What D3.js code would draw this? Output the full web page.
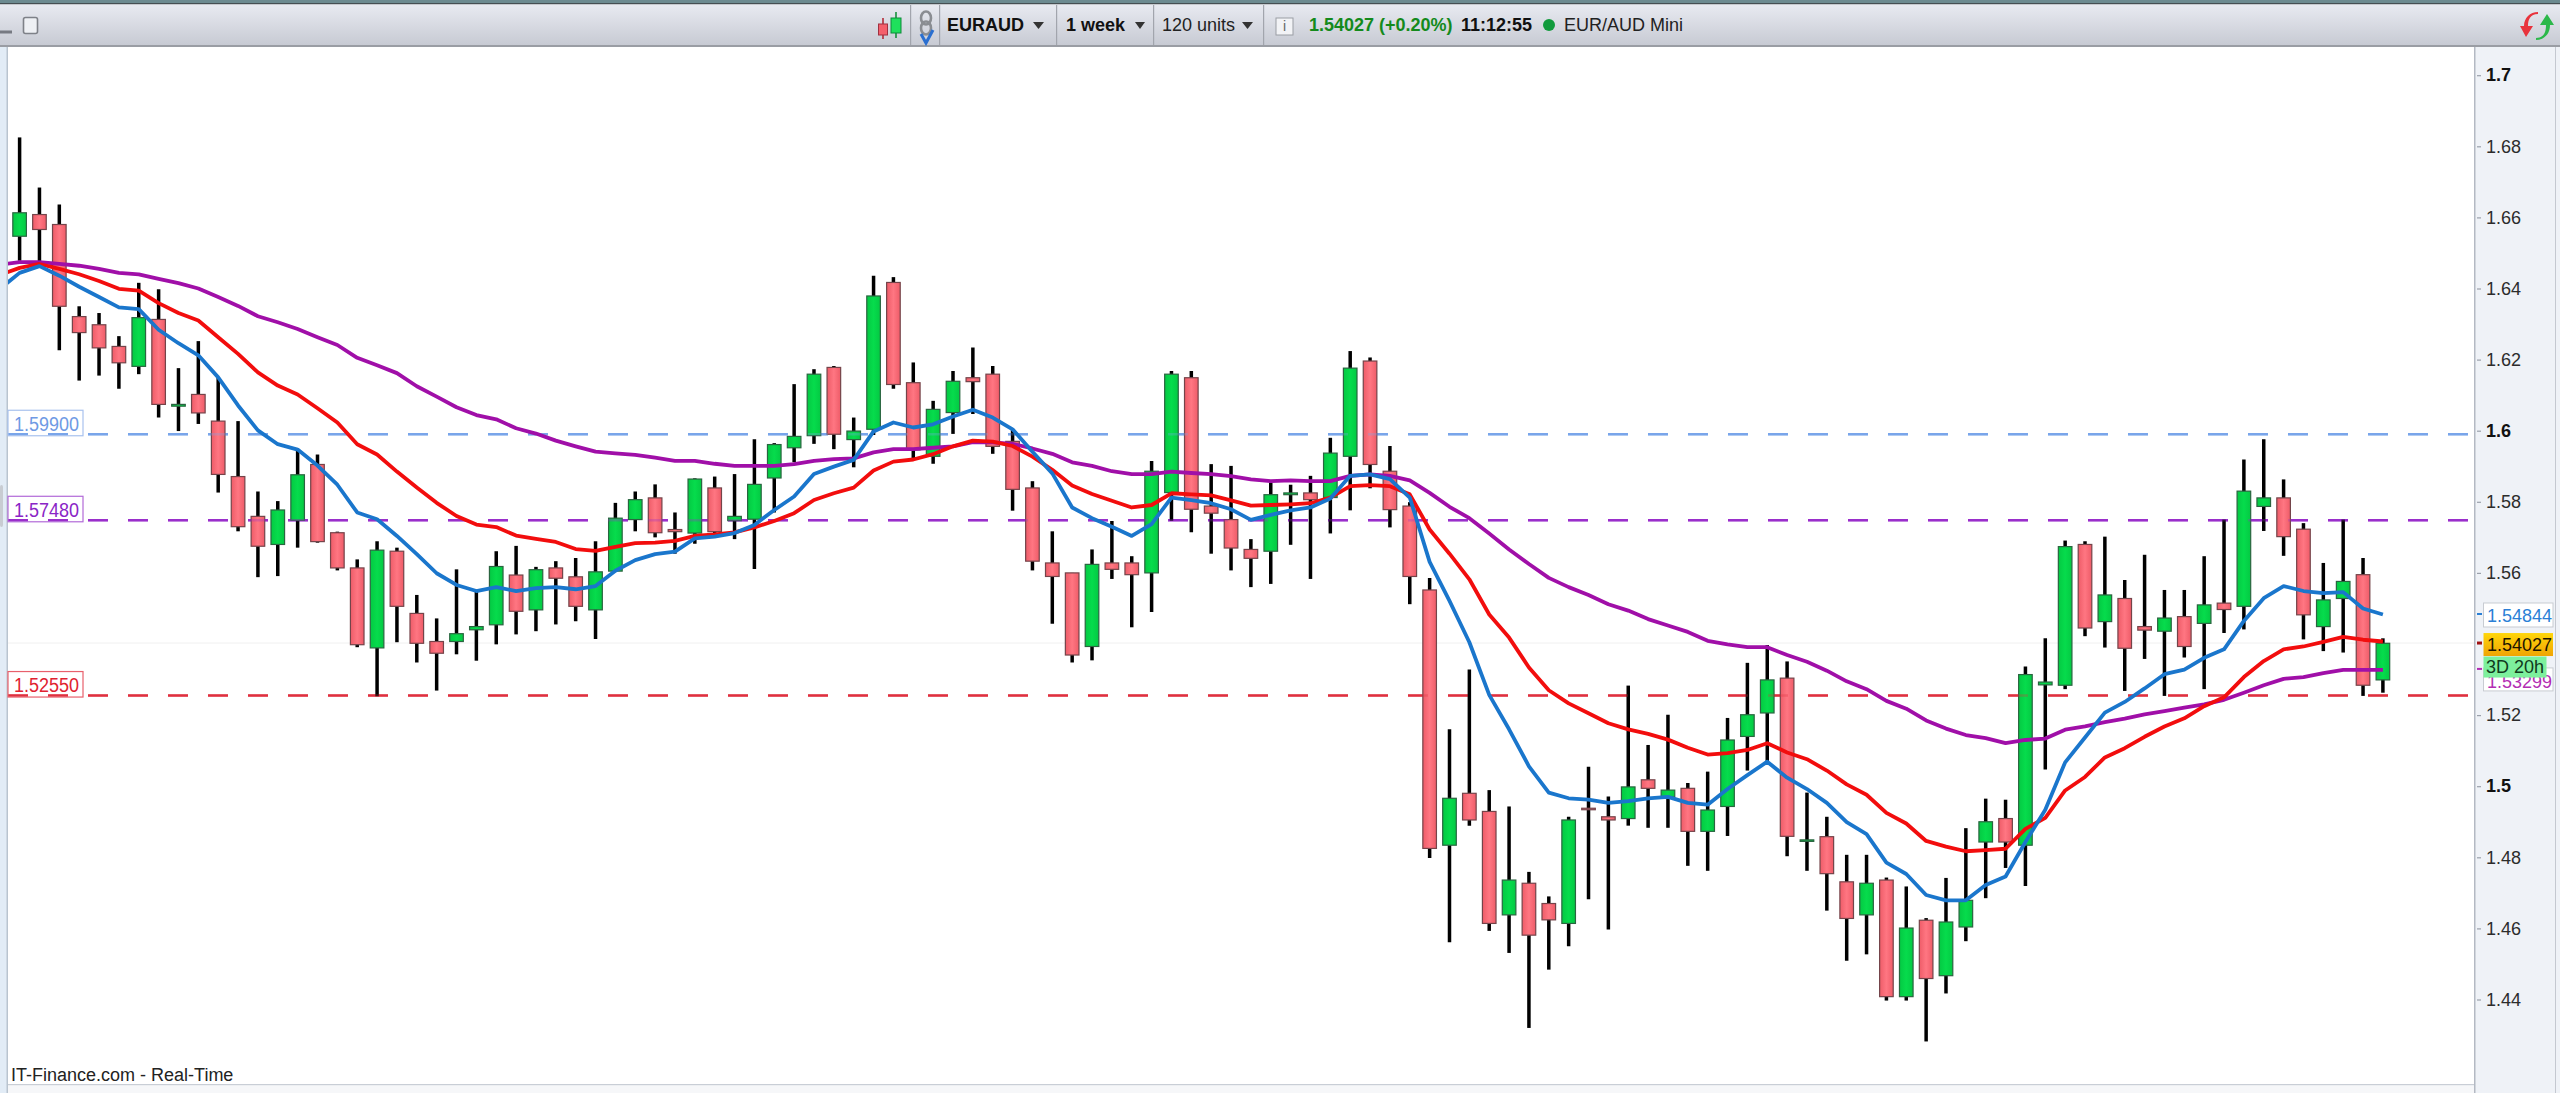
<!DOCTYPE html>
<html><head><meta charset="utf-8"><title>EURAUD</title>
<script src="https://cdn.jsdelivr.net/npm/d3@7/dist/d3.min.js"></script>
<style>html,body{margin:0;padding:0;background:#fff;overflow:hidden}svg{display:block}text{font-family:"Liberation Sans",Arial,sans-serif}</style>
</head><body><div id="chart"></div>
<script>
const opens=[1.6547,1.6608,1.6580,1.6321,1.6298,1.6237,1.6181,1.6313,1.6069,1.6102,
1.6027,1.5871,1.5759,1.5680,1.5748,1.5905,1.5713,1.5614,1.5389,1.5661,
1.5486,1.5407,1.5407,1.5440,1.5454,1.5594,1.5496,1.5614,1.5589,1.5496,
1.5605,1.5750,1.5811,1.5722,1.5712,1.5839,1.5747,1.5751,1.5867,1.5952,
1.5986,1.6178,1.5975,1.6004,1.6417,1.6135,1.5928,1.6051,1.6149,1.6159,
1.5970,1.5839,1.5628,1.5600,1.5393,1.5628,1.5628,1.5600,1.5826,1.6149,
1.5788,1.5750,1.5666,1.5661,1.5820,1.5825,1.5812,1.5928,1.6196,1.5886,
1.5788,1.5552,1.4834,1.4980,1.4929,1.4638,1.4727,1.4670,1.4614,1.4938,
1.4914,1.4909,1.5018,1.4970,1.4994,1.4873,1.4943,1.5140,1.5206,1.5304,
1.4845,1.4858,1.4731,1.4638,1.4736,1.4408,1.4623,1.4467,1.4604,1.4843,
1.4909,1.4834,1.5285,1.5284,1.5680,1.5463,1.5528,1.5449,1.5436,1.5477,
1.5458,1.5515,1.5506,1.5787,1.5811,1.5723,1.5449,1.5528,1.5595,1.5299];
const closes=[1.6613,1.6566,1.6350,1.6276,1.6233,1.6191,1.6318,1.6074,1.6074,1.6050,
1.5877,1.5730,1.5675,1.5777,1.5876,1.5688,1.5614,1.5398,1.5664,1.5506,
1.5402,1.5374,1.5429,1.5449,1.5618,1.5492,1.5609,1.5585,1.5506,1.5603,
1.5754,1.5806,1.5713,1.5716,1.5864,1.5716,1.5759,1.5849,1.5961,1.5984,
1.6159,1.5990,1.5999,1.6379,1.6130,1.5946,1.6060,1.6139,1.6138,1.5956,
1.5835,1.5633,1.5590,1.5369,1.5624,1.5610,1.5595,1.5886,1.6159,1.5779,
1.5768,1.5670,1.5641,1.5820,1.5825,1.5806,1.5937,1.6176,1.5905,1.5778,
1.5590,1.4825,1.4966,1.4905,1.4614,1.4736,1.4581,1.4624,1.4905,1.4934,
1.4905,1.4998,1.4994,1.4989,1.4873,1.4933,1.5130,1.5201,1.5299,1.4859,
1.4849,1.4754,1.4628,1.4727,1.4408,1.4601,1.4459,1.4618,1.4679,1.4900,
1.4843,1.5314,1.5293,1.5674,1.5445,1.5538,1.5388,1.5439,1.5473,1.5393,
1.5510,1.5497,1.5830,1.5811,1.5702,1.5482,1.5524,1.5576,1.5284,1.5402];
const highs=[1.6825,1.6684,1.6636,1.6350,1.6331,1.6266,1.6416,1.6398,1.6176,1.6252,
1.6150,1.6027,1.5829,1.5802,1.5947,1.5933,1.5716,1.5638,1.5689,1.5671,
1.5538,1.5472,1.5610,1.5551,1.5661,1.5676,1.5617,1.5633,1.5642,1.5689,
1.5797,1.5829,1.5849,1.5770,1.5866,1.5871,1.5878,1.5976,1.5965,1.6131,
1.6173,1.6182,1.6037,1.6436,1.6432,1.6192,1.6084,1.6168,1.6234,1.6182,
1.6002,1.5858,1.5717,1.5600,1.5666,1.5746,1.5647,1.5915,1.6168,1.6168,
1.5906,1.5901,1.5695,1.5854,1.5848,1.5873,1.5980,1.6224,1.6206,1.5957,
1.5799,1.5586,1.5160,1.5328,1.4989,1.4943,1.4759,1.4690,1.4914,1.5055,
1.4971,1.5283,1.5116,1.5201,1.5009,1.5041,1.5192,1.5347,1.5397,1.5351,
1.4982,1.4914,1.4807,1.4807,1.4743,1.4718,1.4629,1.4742,1.4882,1.4965,
1.4962,1.5337,1.5416,1.5691,1.5689,1.5702,1.5580,1.5651,1.5552,1.5552,
1.5647,1.5750,1.5919,1.5976,1.5863,1.5740,1.5628,1.5750,1.5642,1.5416];
const lows=[1.6478,1.6472,1.6226,1.6141,1.6155,1.6118,1.6159,1.6037,1.5999,1.6019,
1.5826,1.5717,1.5588,1.5591,1.5671,1.5685,1.5607,1.5391,1.5253,1.5405,
1.5348,1.5269,1.5371,1.5353,1.5399,1.5427,1.5436,1.5455,1.5464,1.5414,
1.5605,1.5717,1.5700,1.5654,1.5682,1.5710,1.5695,1.5611,1.5770,1.5911,
1.5963,1.5948,1.5897,1.5988,1.6118,1.5923,1.5907,1.5991,1.6047,1.5935,
1.5775,1.5607,1.5457,1.5348,1.5354,1.5583,1.5447,1.5490,1.5747,1.5714,
1.5654,1.5607,1.5560,1.5569,1.5679,1.5583,1.5711,1.5776,1.5838,1.5728,
1.5512,1.4798,1.4561,1.4889,1.4593,1.4531,1.4320,1.4484,1.4550,1.4682,
1.4597,1.4889,1.4883,1.4883,1.4776,1.4762,1.4860,1.5044,1.5069,1.4803,
1.4762,1.4650,1.4509,1.4527,1.4397,1.4397,1.4282,1.4417,1.4564,1.4685,
1.4770,1.4719,1.5047,1.5273,1.5422,1.5390,1.5268,1.5358,1.5254,1.5362,
1.5273,1.5431,1.5441,1.5718,1.5648,1.5413,1.5380,1.5376,1.5254,1.5263];
// moving averages: first value belongs to the bar just before the first visible candle
const maBlue=[1.6399,1.6444,1.6463,1.6436,1.6405,1.6376,1.6347,1.6342,1.6284,1.6246,1.6212,
1.6150,1.6071,1.6001,1.5962,1.5947,1.5902,1.5848,1.5770,1.5751,1.5704,
1.5653,1.5599,1.5566,1.5549,1.5560,1.5549,1.5557,1.5560,1.5554,1.5563,
1.5606,1.5636,1.5653,1.5660,1.5697,1.5702,1.5712,1.5735,1.5777,1.5815,
1.5878,1.5899,1.5918,1.5998,1.6023,1.6009,1.6018,1.6040,1.6059,1.6037,
1.6004,1.5941,1.5880,1.5784,1.5754,1.5730,1.5704,1.5737,1.5812,1.5805,
1.5796,1.5779,1.5749,1.5763,1.5776,1.5784,1.5809,1.5873,1.5877,1.5864,
1.5812,1.5631,1.5521,1.5405,1.5257,1.5160,1.5056,1.4982,1.4966,1.4962,
1.4953,1.4958,1.4966,1.4970,1.4953,1.4948,1.4992,1.5031,1.5069,1.5024,
1.4992,1.4953,1.4899,1.4865,1.4785,1.4753,1.4694,1.4679,1.4679,1.4722,
1.4746,1.4843,1.4934,1.5067,1.5137,1.5207,1.5237,1.5275,1.5315,1.5328,
1.5361,1.5385,1.5465,1.5529,1.5563,1.5549,1.5543,1.5546,1.5500,1.5483];
const maRed=[1.6438,1.6458,1.6469,1.6455,1.6440,1.6421,1.6399,1.6394,1.6359,1.6331,1.6310,
1.6263,1.6216,1.6164,1.6127,1.6102,1.6063,1.6023,1.5962,1.5933,1.5885,
1.5840,1.5797,1.5760,1.5736,1.5729,1.5705,1.5696,1.5687,1.5667,1.5662,
1.5673,1.5684,1.5685,1.5690,1.5704,1.5708,1.5714,1.5728,1.5746,1.5768,
1.5805,1.5824,1.5840,1.5888,1.5913,1.5919,1.5934,1.5956,1.5972,1.5969,
1.5957,1.5927,1.5890,1.5846,1.5822,1.5803,1.5784,1.5791,1.5824,1.5821,
1.5818,1.5804,1.5789,1.5791,1.5793,1.5796,1.5812,1.5844,1.5847,1.5844,
1.5821,1.5722,1.5654,1.5582,1.5483,1.5418,1.5334,1.5270,1.5233,1.5205,
1.5177,1.5160,1.5147,1.5131,1.5108,1.5089,1.5093,1.5102,1.5121,1.5095,
1.5076,1.5044,1.5005,1.4976,1.4925,1.4895,1.4846,1.4830,1.4817,1.4820,
1.4824,1.4880,1.4911,1.4988,1.5026,1.5081,1.5107,1.5139,1.5168,1.5191,
1.5225,1.5250,1.5307,1.5352,1.5385,1.5393,1.5406,1.5420,1.5412,1.5407];
const maPurple=[1.6467,1.6474,1.6474,1.6469,1.6464,1.6455,1.6444,1.6440,1.6427,1.6415,1.6400,
1.6376,1.6351,1.6322,1.6305,1.6286,1.6263,1.6241,1.6205,1.6184,1.6162,
1.6125,1.6096,1.6066,1.6044,1.6032,1.6007,1.5992,1.5972,1.5956,1.5941,
1.5936,1.5932,1.5924,1.5915,1.5915,1.5907,1.5901,1.5901,1.5901,1.5906,
1.5915,1.5920,1.5922,1.5939,1.5948,1.5948,1.5952,1.5956,1.5968,1.5967,
1.5963,1.5950,1.5935,1.5911,1.5901,1.5886,1.5878,1.5878,1.5885,1.5881,
1.5878,1.5872,1.5863,1.5858,1.5860,1.5858,1.5858,1.5873,1.5877,1.5873,
1.5860,1.5825,1.5786,1.5754,1.5711,1.5666,1.5625,1.5586,1.5560,1.5538,
1.5512,1.5494,1.5470,1.5452,1.5434,1.5409,1.5399,1.5391,1.5391,1.5369,
1.5350,1.5325,1.5295,1.5273,1.5240,1.5218,1.5185,1.5162,1.5144,1.5135,
1.5121,1.5130,1.5134,1.5159,1.5168,1.5180,1.5190,1.5202,1.5211,1.5221,
1.5230,1.5243,1.5263,1.5284,1.5302,1.5307,1.5318,1.5327,1.5327,1.5327];
const tickValues=[1.7,1.68,1.66,1.64,1.62,1.6,1.58,1.56,1.52,1.5,1.48,1.46,1.44];
const boldTicks=[1.7,1.6,1.5];
const levels=[1.5990,1.5748,1.5255];
const levelLabels=["1.59900","1.57480","1.52550"];
const levelColors=["#79a5ea","#9a2fcb","#e0303f"];
const levelTextColors=["#6f9ae4","#8a25c6","#e0222f"];
const levelBorders=["#a8c2ee","#b26ad8","#e8606c"];
const lastPrice=1.54027, lastBlue=1.54844, lastPurple=1.53299;

const W=2560,H=1093,plotL=8,plotR=2474,plotT=47,plotB=1084;
const x=d3.scaleLinear().domain([0,119]).range([19.6,2382.9]);
const y=d3.scaleLinear().domain([1.7,1.44]).range([75.2,999.5]);
const svg=d3.select("#chart").append("svg").attr("width",W).attr("height",H);
const defs=svg.append("defs");
function grad(id,stops,horizontal){const g=defs.append("linearGradient").attr("id",id)
 .attr("x1",0).attr("y1",0).attr("x2",horizontal?1:0).attr("y2",horizontal?0:1);
 stops.forEach(([o,c])=>g.append("stop").attr("offset",o).attr("stop-color",c));}
grad("gTool",[[0,"#e8eaf1"],[1,"#c7cad3"]]);
grad("gUp",[[0,"#04c943"],[.5,"#06dc4c"],[1,"#04c943"]],true);
grad("gDn",[[0,"#ee5c68"],[.5,"#ff7682"],[1,"#ee5c68"]],true);
grad("gLast",[[0,"#ffd60a"],[1,"#f0a404"]]);
defs.append("clipPath").attr("id","plot").append("rect").attr("x",plotL).attr("y",plotT).attr("width",plotR-plotL).attr("height",plotB-plotT);

// panels
svg.append("rect").attr("x",0).attr("y",47).attr("width",7).attr("height",H-47).attr("fill","#e2ecf6");
svg.append("rect").attr("x",6.5).attr("y",47).attr("width",1.5).attr("height",H-47).attr("fill","#b9c4cf");
svg.append("rect").attr("x",0).attr("y",485).attr("width",3).attr("height",42).attr("rx",2).attr("fill","#c8ccd2");
svg.append("rect").attr("x",plotR).attr("y",47).attr("width",W-plotR).attr("height",H-47).attr("fill","#eff2f7");
svg.append("rect").attr("x",plotR).attr("y",47).attr("width",1.5).attr("height",H-47).attr("fill","#b4b9c3");
svg.append("rect").attr("x",2555).attr("y",47).attr("width",1).attr("height",H-47).attr("fill","#c4c8d0");
svg.append("rect").attr("x",8).attr("y",1084).attr("width",plotR-8).attr("height",1.5).attr("fill","#c9ced6");
svg.append("rect").attr("x",8).attr("y",1085.5).attr("width",plotR-8).attr("height",8).attr("fill","#f6f7f9");

const plot=svg.append("g").attr("clip-path","url(#plot)");
plot.append("line").attr("x1",plotL).attr("x2",plotR).attr("y1",y(lastPrice)).attr("y2",y(lastPrice)).attr("stroke","#f1f1f1");

function drawLevels(cls,op){
 plot.selectAll("line."+cls).data(levels).join("line").attr("class",cls)
 .attr("x1",plotL).attr("x2",plotR).attr("y1",d=>y(d)).attr("y2",d=>y(d))
 .attr("stroke",(d,i)=>levelColors[i]).attr("stroke-width",2.4).attr("stroke-dasharray","20 20").attr("opacity",op);
}
drawLevels("levelUnder",1);

// candles
const candles=opens.map((o,i)=>({i,o,c:closes[i],h:highs[i],l:lows[i]}));
const cg=plot.append("g");
cg.selectAll("line.wick").data(candles).join("line").attr("class","wick")
 .attr("x1",d=>x(d.i)).attr("x2",d=>x(d.i)).attr("y1",d=>y(d.h)).attr("y2",d=>y(d.l))
 .attr("stroke","#000").attr("stroke-width",3.5);
cg.selectAll("rect.body").data(candles).join("rect").attr("class","body")
 .attr("x",d=>x(d.i)-6.8).attr("width",13.6)
 .attr("y",d=>y(Math.max(d.o,d.c))).attr("height",d=>Math.max(1.5,Math.abs(y(d.o)-y(d.c))))
 .attr("fill",d=>d.c>=d.o?"url(#gUp)":"url(#gDn)")
 .attr("stroke",d=>d.c>=d.o?"#2a6540":"#74444a").attr("stroke-width",1.2);

drawLevels("levelOver",.3);

// moving averages
const line=d3.line().x((d,i)=>x(i-1)).y(d=>y(d));
[[maPurple,"#a00fa8"],[maRed,"#f20d0d"],[maBlue,"#1a76cc"]].forEach(([s,c])=>{
 plot.append("path").datum(s).attr("d",line).attr("fill","none").attr("stroke",c).attr("stroke-width",3.8).attr("stroke-linejoin","round");
});

// level labels
const lab=svg.append("g");
levels.forEach((v,i)=>{
 const yy=y(v);
 lab.append("rect").attr("x",8).attr("y",yy-24).attr("width",75).attr("height",25.5).attr("fill","none").attr("stroke",levelBorders[i]).attr("stroke-width",1.2);
 lab.append("text").attr("transform",`translate(14,${yy-3.5}) scale(1,1.08)`).attr("font-size",18).attr("fill",levelTextColors[i]).text(levelLabels[i]);
});

// right axis
const ax=svg.append("g").attr("transform",`translate(${plotR+3},0)`)
 .call(d3.axisRight(y).tickValues(tickValues).tickSize(4).tickPadding(5).tickFormat(d=>d3.format("~g")(d)));
ax.select(".domain").remove();
ax.selectAll(".tick line").attr("stroke","#9aa0aa").attr("stroke-width",1.2);
ax.selectAll(".tick text").attr("font-size",18).attr("font-family",'"Liberation Sans",Arial,sans-serif')
 .attr("font-weight",d=>boldTicks.includes(d)?"bold":"normal").attr("fill",d=>boldTicks.includes(d)?"#111":"#2c2c2c");

// price tags
const tag=svg.append("g");
function tick(v,c,w){tag.append("line").attr("x1",2477).attr("x2",2482).attr("y1",y(v)).attr("y2",y(v)).attr("stroke",c).attr("stroke-width",w);}
function box(yTop,h,fill,stroke){tag.append("rect").attr("x",2483.5).attr("y",yTop).attr("width",69.5).attr("height",h).attr("fill",fill).attr("stroke",stroke||"none");}
function txt(xp,yb,s,c){tag.append("text").attr("x",xp).attr("y",yb).attr("font-size",18).attr("fill",c).text(s);}
tick(lastBlue,"#2a7fd5",2);tick(lastPrice,"#a01010",3);tick(lastPurple,"#b32db3",2);
box(y(lastBlue)-11,24,"#fff","#c8ccd2");
txt(2487,y(lastBlue)+8,"1.54844","#2b7fd6");
box(y(lastPurple)-1,23,"#fff","#c8ccd2");
txt(2487,y(lastPurple)+19,"1.53299","#b32db3");
box(y(lastPrice)-10,23,"url(#gLast)");
txt(2487,y(lastPrice)+8,"1.54027","#1c1400");
tag.append("rect").attr("x",2483.5).attr("y",y(lastPrice)+13.5).attr("width",63).attr("height",21).attr("fill","#7df09c");
txt(2486,y(lastPrice)+30,"3D 20h","#103a1c");

// footer
svg.append("text").attr("x",11).attr("y",1081).attr("font-size",18).attr("fill","#222").text("IT-Finance.com - Real-Time");

// toolbar
const tb=svg.append("g");
tb.append("rect").attr("width",W).attr("height",4).attr("fill","#6c8a90");
tb.append("rect").attr("y",3).attr("width",W).attr("height",1.5).attr("fill","#454e52");
tb.append("rect").attr("y",4.5).attr("width",W).attr("height",41).attr("fill","url(#gTool)");
tb.append("rect").attr("y",45).attr("width",W).attr("height",2).attr("fill","#9a9da4");
[910,939,1056,1153,1263].forEach(v=>tb.append("rect").attr("x",v).attr("y",5).attr("width",1.2).attr("height",40).attr("fill","#a2a5ad"));
tb.append("rect").attr("x",0).attr("y",30.5).attr("width",12).attr("height",3).attr("fill","#777a82");
tb.append("rect").attr("x",23.5).attr("y",17.5).attr("width",14).attr("height",16).attr("rx",2).attr("fill","#eef0f4").attr("stroke","#7e8188").attr("stroke-width",1.6);
// candle icon
tb.append("line").attr("x1",883).attr("x2",883).attr("y1",18).attr("y2",39).attr("stroke","#b0202c").attr("stroke-width",1.5);
tb.append("rect").attr("x",878.5).attr("y",24).attr("width",9).attr("height",11).attr("fill","#f4606c").attr("stroke","#a03040");
tb.append("line").attr("x1",896).attr("x2",896).attr("y1",12).attr("y2",38).attr("stroke","#0a8a30").attr("stroke-width",1.5);
tb.append("rect").attr("x",891).attr("y",18).attr("width",10).attr("height",15).attr("fill","#1fe05c").attr("stroke","#0f8a3a");
// chain & tick icon
tb.append("ellipse").attr("cx",926).attr("cy",18).attr("rx",5).attr("ry",6.5).attr("fill","none").attr("stroke","#8a8d92").attr("stroke-width",2.6);
tb.append("ellipse").attr("cx",926).attr("cy",28).attr("rx",5).attr("ry",6.5).attr("fill","none").attr("stroke","#8a8d92").attr("stroke-width",2.6);
tb.append("path").attr("d","M921 34 L926 43 L933 30").attr("fill","none").attr("stroke","#2a6fd0").attr("stroke-width",3);
function t(xp,s,fill,bold){tb.append("text").attr("x",xp).attr("y",31).attr("font-size",18).attr("font-weight",bold?"bold":"normal").attr("fill",fill).text(s);}
function tri(xp,w){tb.append("path").attr("d",`M${xp} 22 L${xp+w} 22 L${xp+w/2} 29 Z`).attr("fill","#333");}
t(947,"EURAUD","#111",true);tri(1033,11);
t(1066,"1 week","#111",true);tri(1135,10);
t(1162,"120 units","#222",false);tri(1242,11);
tb.append("rect").attr("x",1276).attr("y",18).attr("width",17).attr("height",17).attr("fill","#f2f3f6").attr("stroke","#9a9da4");
tb.append("text").attr("x",1284.5).attr("y",31).attr("font-size",14).attr("text-anchor","middle").attr("fill","#666").text("i");
t(1309,"1.54027 (+0.20%)","#148a1c",true);
t(1461,"11:12:55","#111",true);
tb.append("circle").attr("cx",1549).attr("cy",25).attr("r",6).attr("fill","#119a3c");
t(1564,"EUR/AUD Mini","#222",false);
// refresh icon
tb.append("path").attr("d","M2538 14 C2530 14 2528 20 2528 26 L2533 26 L2526 37 L2520 26 L2524 26 C2524 18 2530 12 2538 12 Z").attr("fill","#e8333c");
tb.append("path").attr("d","M2536 38 C2544 38 2546 32 2546 25 L2540 25 L2547 14 L2554 25 L2550 25 C2550 34 2544 40 2536 40 Z").attr("fill","#2cb84a");
</script></body></html>
